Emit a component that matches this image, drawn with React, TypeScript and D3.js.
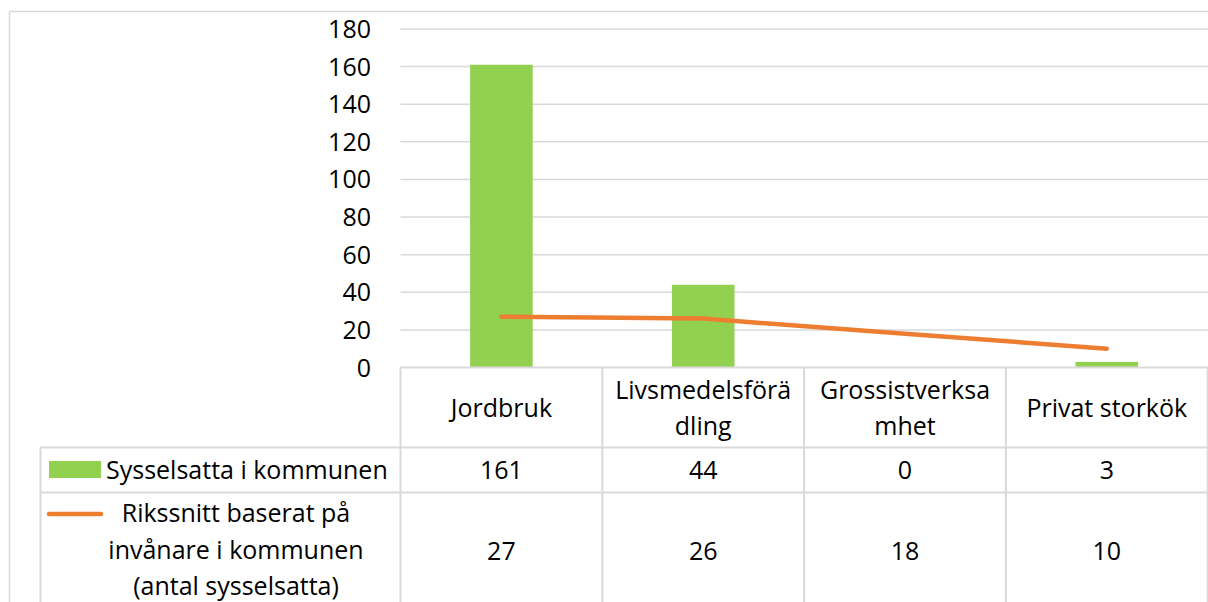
import React from "react";
import * as d3 from "d3";

const categories = ["Jordbruk", "Livsmedelsförädling", "Grossistverksamhet", "Privat storkök"];
const categoryLines = [["Jordbruk"], ["Livsmedelsförä", "dling"], ["Grossistverksa", "mhet"], ["Privat storkök"]];
const sysselsatta = [161, 44, 0, 3];
const rikssnitt = [27, 26, 18, 10];
const yTicks = [0, 20, 40, 60, 80, 100, 120, 140, 160, 180];
const seriesNames = ["Sysselsatta i kommunen", "Rikssnitt baserat på invånare i kommunen (antal sysselsatta)"];
const series2Lines = ["Rikssnitt baserat på", "invånare i kommunen", "(antal sysselsatta)"];

const W = 1208;
const H = 602;
const GREEN = "#92d050";
const ORANGE = "#ed7d31";
const GRID = "#d9d9d9";
const FONT = "'Open Sans', sans-serif";
const FS = 25;

export default function App() {
  const plotLeft = 400.5;
  const plotRight = 1208;
  const x = d3.scaleBand<string>().domain(categories).range([plotLeft, plotLeft + 4 * 201.8]).paddingInner(0).paddingOuter(0);
  const y = d3.scaleLinear().domain([0, 180]).range([367.5, 29]);
  const bw = x.bandwidth() * 0.31;
  const line = d3
    .line<number>()
    .x((_, i) => x(categories[i])! + x.bandwidth() / 2)
    .y((d) => y(d));

  const tableTop = y(0);
  const headerBottom = 447.5;
  const row1Bottom = 492.5;
  const legendLeft = 40.5;

  return (
    <svg width={W} height={H} style={{ position: "absolute", left: 0, top: 0, background: "#fff" }} fontFamily={FONT}>
      {/* outer border */}
      <line x1={9.5} x2={W} y1={11.5} y2={11.5} stroke={GRID} strokeWidth={1.5} />
      <line x1={9.5} x2={9.5} y1={11.5} y2={H} stroke={GRID} strokeWidth={1.5} />

      {/* gridlines */}
      {yTicks.filter((t) => t > 0).map((t) => (
        <line key={t} x1={plotLeft} x2={plotRight} y1={y(t)} y2={y(t)} stroke={GRID} strokeWidth={1.5} />
      ))}
      {/* y tick labels */}
      {yTicks.map((t) => (
        <text key={t} x={371} y={y(t)} dy="0.36em" textAnchor="end" fontSize={FS} fill="#000">
          {t}
        </text>
      ))}

      {/* bars */}
      {sysselsatta.map((v, i) => {
        const cx = x(categories[i])! + x.bandwidth() / 2;
        return <rect key={i} x={cx - bw / 2} y={y(v)} width={bw} height={y(0) - y(v)} fill={GREEN} />;
      })}

      {/* line */}
      <path d={line(rikssnitt) || ""} fill="none" stroke={ORANGE} strokeWidth={4.5} strokeLinecap="round" strokeLinejoin="round" />

      {/* data table */}
      <g stroke={GRID} strokeWidth={2}>
        <line x1={plotLeft} x2={plotRight} y1={tableTop} y2={tableTop} />
        <line x1={legendLeft} x2={plotRight} y1={headerBottom} y2={headerBottom} />
        <line x1={legendLeft} x2={plotRight} y1={row1Bottom} y2={row1Bottom} />
        <line x1={legendLeft} x2={legendLeft} y1={headerBottom} y2={H} />
        {categories.map((c) => (
          <line key={c} x1={x(c)!} x2={x(c)!} y1={tableTop} y2={H} />
        ))}
        <line x1={x(categories[3])! + x.bandwidth()} x2={x(categories[3])! + x.bandwidth()} y1={tableTop} y2={H} />
      </g>

      {/* header labels */}
      {categoryLines.map((lines, i) => {
        const cx = x(categories[i])! + x.bandwidth() / 2;
        const mid = (tableTop + headerBottom) / 2;
        return (
          <text key={i} x={cx} textAnchor="middle" fontSize={FS} fill="#000">
            {lines.map((l, j) => (
              <tspan key={j} x={cx} y={mid + (j - (lines.length - 1) / 2) * 36} dy="0.36em">
                {l}
              </tspan>
            ))}
          </text>
        );
      })}

      {/* row 1 */}
      <rect x={49} y={461} width={52} height={17} fill={GREEN} />
      <text x={106} y={(headerBottom + row1Bottom) / 2} dy="0.36em" fontSize={FS} fill="#000">
        {seriesNames[0]}
      </text>
      {sysselsatta.map((v, i) => (
        <text key={i} x={x(categories[i])! + x.bandwidth() / 2} y={(headerBottom + row1Bottom) / 2} dy="0.36em" textAnchor="middle" fontSize={FS} fill="#000">
          {v}
        </text>
      ))}

      {/* row 2 */}
      <line x1={49} x2={101} y1={514} y2={514} stroke={ORANGE} strokeWidth={4.5} strokeLinecap="round" />
      <text textAnchor="middle" fontSize={FS} fill="#000">
        {series2Lines.map((l, j) => (
          <tspan key={j} x={236} y={513 + j * 36.5} dy="0.36em">
            {l}
          </tspan>
        ))}
      </text>
      {rikssnitt.map((v, i) => (
        <text key={i} x={x(categories[i])! + x.bandwidth() / 2} y={551} dy="0.36em" textAnchor="middle" fontSize={FS} fill="#000">
          {v}
        </text>
      ))}
    </svg>
  );
}
